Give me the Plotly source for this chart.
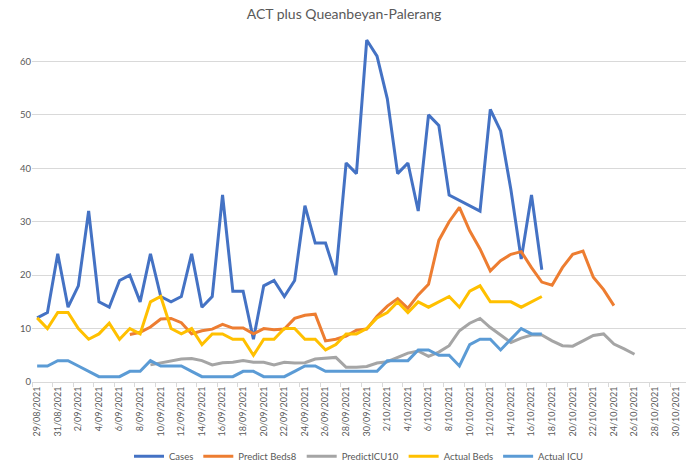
import pandas as pd
import plotly.graph_objects as go

title = "ACT plus Queanbeyan-Palerang"

series_names = ["Cases", "Predict Beds8", "PredictICU10", "Actual Beds", "Actual ICU"]
series_starts = ["2021-08-29", "2021-09-07", "2021-09-09", "2021-08-29", "2021-08-29"]

cases = [12, 13, 24, 14, 18, 32, 15, 14, 19, 20,
         15, 24, 16, 15, 16, 24, 14, 16, 35, 17,
         17, 8, 18, 19, 16, 19, 33, 26, 26, 20,
         41, 39, 64, 61, 53, 39, 41, 32, 50, 48,
         35, 34, 33, 32, 51, 47, 36, 23, 35, 21]

predict_beds8 = [8.9, 9.3, 10.3, 11.8, 11.9, 11.1, 9.0, 9.6, 9.9, 10.8,
                 10.1, 10.1, 9.0, 10.0, 9.8, 9.9, 11.9, 12.5, 12.7, 7.7,
                 8.0, 8.6, 9.7, 9.9, 12.3, 14.2, 15.6, 13.8, 16.3, 18.3,
                 26.5, 30.0, 32.7, 28.3, 24.9, 20.8, 22.7, 23.9, 24.4, 21.4,
                 18.7, 18.1, 21.4, 23.9, 24.5, 19.6, 17.3, 14.3]

predict_icu10 = [3.2, 3.6, 4.0, 4.3, 4.4, 4.0, 3.2, 3.6, 3.7, 4.0,
                 3.7, 3.7, 3.2, 3.7, 3.55, 3.6, 4.3, 4.5, 4.6, 2.75,
                 2.75, 2.9, 3.55, 3.8, 4.6, 5.4, 5.8, 4.8, 5.6, 6.8,
                 9.6, 11.0, 11.9, 10.2, 8.8, 7.4, 8.2, 8.8, 8.8, 7.7,
                 6.8, 6.7, 7.7, 8.7, 9.0, 7.1, 6.2, 5.2]

actual_beds = [12, 10, 13, 13, 10, 8, 9, 11, 8, 10,
               9, 15, 16, 10, 9, 10, 7, 9, 9, 8,
               8, 5, 8, 8, 10, 10, 8, 8, 6, 7,
               9, 9, 10, 12, 13, 15, 13, 15, 14, 15,
               16, 14, 17, 18, 15, 15, 15, 14, 15, 16]

actual_icu = [3, 3, 4, 4, 3, 2, 1, 1, 1, 2,
              2, 4, 3, 3, 3, 2, 1, 1, 1, 1,
              2, 2, 1, 1, 1, 2, 3, 3, 2, 2,
              2, 2, 2, 2, 4, 4, 4, 6, 6, 5,
              5, 3, 7, 8, 8, 6, 8, 10, 9, 9]

series_values = [cases, predict_beds8, predict_icu10, actual_beds, actual_icu]
series_colors = ["#4472C4", "#ED7D31", "#A5A5A5", "#FFC000", "#5B9BD5"]

y_ticks = [0, 10, 20, 30, 40, 50, 60]

fig = go.Figure()
for name, start, vals, col in zip(series_names, series_starts, series_values, series_colors):
    x = pd.date_range(start, periods=len(vals), freq="D")
    fig.add_trace(go.Scatter(x=x, y=vals, name=name, mode="lines",
                             line=dict(color=col, width=3)))

DAY = 86400000
fig.update_layout(
    width=688, height=472,
    paper_bgcolor="white", plot_bgcolor="white",
    margin=dict(l=32, r=2, t=8, b=89),
    font=dict(family="Lato", color="#595959"),
    title=dict(text=title, x=0.5, xanchor="center", y=1 - 14.5 / 472, yanchor="middle",
               yref="container", font=dict(size=14, color="#595959")),
    showlegend=True,
    legend=dict(orientation="h", x=0.5, xanchor="center", y=-0.195, yanchor="middle",
                font=dict(size=9.5, color="#595959"), traceorder="normal",
                itemwidth=30),
)
fig.update_xaxes(
    type="date",
    range=["2021-08-28 12:00", "2021-10-31 00:00"],
    tick0="2021-08-29", dtick=2 * DAY, tickformat="%-d/%m/%Y",
    tickangle=-90, tickfont=dict(size=9, color="#595959"),
    ticks="", showgrid=False,
    showline=True, linecolor="#D9D9D9", linewidth=1,
    minor=dict(ticks="outside", tick0="2021-08-28 12:00", dtick=2 * DAY,
               ticklen=4, tickcolor="#D9D9D9", showgrid=False),
    zeroline=False,
)
fig.update_yaxes(
    range=[0, 70], tickvals=y_ticks,
    tickfont=dict(size=9.5, color="#595959"),
    showgrid=True, gridcolor="#D9D9D9", gridwidth=1,
    zeroline=False, showline=False, ticks="",
)
fig.write_html("out.html", config={"displayModeBar": False},
               post_script="document.body.style.margin='0';")
